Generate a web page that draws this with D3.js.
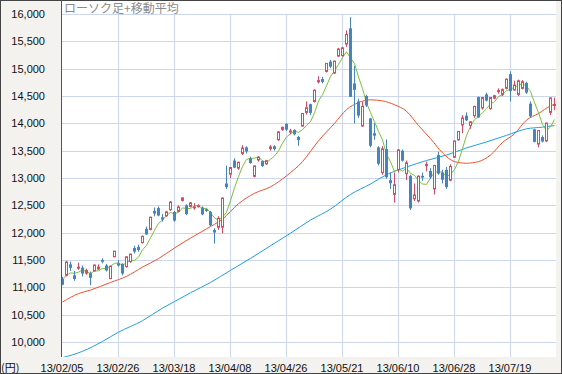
<!DOCTYPE html>
<html>
<head>
<meta charset="utf-8">
<script src="https://cdn.jsdelivr.net/npm/d3@7"></script>
<style>
  body { margin: 0; background: #fff; }
  svg { display: block; }
</style>
</head>
<body>
<svg width="562" height="374"></svg>
<script>
// trading days (2013/02/05 - 2013/08/05), one candle per day
var febDays = ["05","06","07","08","12","13","14","15","18","19","20","21","22","25","26","27","28"];
var marDays = ["01","04","05","06","07","08","11","12","13","14","15","18","19","21","22","25","26","27","28","29"];
var aprDays = ["01","02","03","04","05","08","09","10","11","12","15","16","17","18","19","22","23","24","25","26","30"];
var mayDays = ["01","02","07","08","09","10","13","14","15","16","17","20","21","22","23","24","27","28","29","30","31"];
var junDays = ["03","04","05","06","07","10","11","12","13","14","17","18","19","20","21","24","25","26","27","28"];
var julDays = ["01","02","03","04","05","08","09","10","11","12","16","17","18","19","22","23","24","25","26","29","30","31"];
var augDays = ["01","02","05"];

// candle values (yen)
var openVals = [11152,11220,11420,11220,11350,11360,11260,11260,11300,11335,
  11500,11400,11160,11560,11440,11430,11380,11470,11720,11740,
  11820,12070,12060,12400,12450,12280,12310,12420,12380,12390,
  12590,12500,12480,12460,12480,12460,12430,12380,12050,12100,
  12100,12900,13070,13320,13180,13450,13560,13360,13030,13330,
  13310,13260,13540,13580,13700,13890,13990,13840,13880,13750,
  13950,14200,14350,14400,14760,14810,14950,15130,14920,15230,
  15240,15450,15738,14730,14400,13950,14500,14090,13820,13560,
  13100,13530,12960,12700,13150,13500,13080,13040,12620,12580,
  13040,13230,13130,12800,13420,13100,13150,12960,13380,13700,
  13970,14140,13960,14140,14480,14280,14530,14270,14460,14590,
  14530,14640,14900,14610,14530,14640,14740,14360,13890,13620,
  13750,13680,14200,14330];
var highVals = [11190,11480,11470,11300,11450,11400,11340,11290,11420,11420,
  11530,11430,11395,11665,11500,11440,11565,11620,11760,11780,
  11950,12110,12290,12460,12480,12340,12400,12580,12400,12500,
  12650,12520,12560,12540,12520,12480,12440,12400,12080,12300,
  12640,13225,13200,13360,13300,13600,13580,13390,13230,13400,
  13320,13330,13600,13600,13860,13940,14000,13900,13890,13770,
  14190,14400,14360,14620,14860,14850,15100,15160,15150,15380,
  15400,15700,15942,15050,14450,14394,14520,14100,14000,13580,
  13580,13705,13100,13100,13530,13520,13320,13060,12900,13050,
  13100,13300,13180,13240,13480,13150,13200,13250,13680,13860,
  14150,14200,14040,14320,14490,14480,14560,14480,14520,14640,
  14640,14820,14950,14780,14800,14790,14760,14400,13900,13880,
  13780,14010,14470,14470];
var lowVals = [11040,11200,11300,11120,11320,11200,11230,11040,11290,11320,
  11440,11290,11150,11550,11380,11220,11360,11450,11620,11650,
  11800,11960,12040,12300,12300,12200,12290,12400,12200,12370,
  12570,12320,12460,12420,12460,12320,12380,12120,11800,12050,
  11990,12800,13000,13180,13150,13420,13450,13260,13010,13300,
  13200,13240,13500,13500,13680,13860,13860,13800,13780,13590,
  13940,14160,14150,14380,14730,14730,14930,15010,14900,15220,
  15220,15400,14484,14000,14100,13937,14300,13560,13700,13230,
  13060,12990,12800,12550,13100,13300,12960,12415,12580,12550,
  12950,13120,12980,12700,13060,12900,12800,12940,13370,13680,
  13820,14040,13900,14100,14100,14250,14400,14250,14440,14540,
  14500,14620,14400,14600,14500,14620,14540,14100,13650,13560,
  13650,13660,14150,14240];
var closeVals = [11047,11464,11357,11153,11369,11251,11307,11173,11407,11372,
  11468,11309,11386,11662,11398,11253,11559,11606,11652,11683,
  11932,11968,12283,12349,12314,12239,12381,12560,12220,12468,
  12635,12338,12546,12471,12493,12335,12397,12135,12003,12262,
  12634,12833,13192,13190,13288,13549,13485,13275,13221,13382,
  13220,13316,13568,13529,13843,13926,13884,13860,13799,13694,
  14180,14285,14191,14607,14782,14758,15096,15037,15138,15360,
  15381,15627,14484,14612,14142,14311,14326,13589,13774,13261,
  13533,13014,12904,12877,13514,13317,13277,12445,12690,13033,
  13007,13245,13014,13230,13080,12969,12834,13213,13677,13852,
  14098,14055,14028,14309,14109,14472,14416,14472,14506,14599,
  14615,14808,14589,14700,14778,14760,14562,14129,13661,13869,
  13668,14005,14466,14345];

// 5-day moving average, one value per candle
var ma5Vals = [11150,11220,11264,11256,11278,11319,11287,11251,11301,11302,
  11345,11346,11388,11439,11445,11402,11452,11496,11494,11551,
  11686,11768,11904,12043,12169,12231,12313,12369,12343,12374,
  12453,12444,12441,12492,12497,12437,12448,12366,12273,12226,
  12286,12373,12585,12822,13027,13210,13341,13357,13364,13382,
  13317,13283,13341,13403,13495,13636,13750,13808,13862,13833,
  13883,13964,14030,14191,14409,14525,14687,14856,14962,15078,
  15202,15309,15198,15093,14849,14635,14375,14196,14028,13852,
  13697,13434,13297,13118,13168,13125,13178,13086,13049,12952,
  12890,12884,12998,13106,13115,13108,13025,13065,13155,13309,
  13535,13779,13942,14068,14120,14195,14267,14356,14395,14493,
  14522,14600,14623,14662,14698,14727,14678,14586,14378,14196,
  13978,13866,13934,14071];

// 25-day moving average, read at these candles
var ma25Idx = [0,4,7,12,16,20,24,28,32,36,40,44,48,52,56,60,64,68,71,74,77,80,83,86,89,92,95,98,101,104,107,110,113,116,119,122,123];
var ma25Vals = [10731,10885,10950,11090,11200,11370,11526,11720,11900,12070,12250,12530,12720,12838,13040,13300,13680,14000,14250,14380,14430,14410,14340,14220,13960,13720,13460,13300,13270,13300,13420,13650,13810,14060,14180,14320,14350];

// 75-day moving average, read at these candles
var ma75Idx = [0,5,10,14,20,25,28,32,37,42,47,52,57,62,67,72,77,81,86,91,96,101,106,111,116,120,123];
var ma75Vals = [9713,9830,10010,10180,10390,10620,10740,10900,11090,11310,11530,11760,11990,12230,12430,12700,12890,13060,13200,13320,13420,13550,13660,13780,13900,13930,13960];

var yTicks = [10000,10500,11000,11500,12000,12500,13000,13500,14000,14500,15000,15500,16000];
var xTickIdx = [0,14,28,42,56,70,84,98,112];

var dates = [].concat(
  febDays.map(function(d){ return "13/02/" + d; }),
  marDays.map(function(d){ return "13/03/" + d; }),
  aprDays.map(function(d){ return "13/04/" + d; }),
  mayDays.map(function(d){ return "13/05/" + d; }),
  junDays.map(function(d){ return "13/06/" + d; }),
  julDays.map(function(d){ return "13/07/" + d; }),
  augDays.map(function(d){ return "13/08/" + d; })
);

var svg = d3.select("svg");
var width = parseInt(svg.attr("width"));
var height = parseInt(svg.attr("height"));

// plot area
var plotLeft = 61, plotRight = 556, plotTop = 1, plotBottom = 357;

var x = d3.scaleLinear().domain([0, dates.length - 1]).range([62, 62 + 4 * (dates.length - 1)]);
var y = d3.scaleLinear().domain([10000, 16000]).range([342, 14]);

var upColor = "#d34b67";
var downColor = "#4784bf";
var fontNum = "'Liberation Sans', Arial, sans-serif";

// background and frame
svg.append("rect")
  .attr("x", 0.5).attr("y", 0.5)
  .attr("width", width - 1).attr("height", height - 1)
  .attr("fill", "#f3f2ef")
  .attr("stroke", "#444");

svg.append("rect")
  .attr("x", plotLeft).attr("y", plotTop)
  .attr("width", plotRight - plotLeft).attr("height", plotBottom - plotTop)
  .attr("fill", "#fff");

svg.append("clipPath").attr("id", "plotClip")
  .append("rect")
  .attr("x", plotLeft + 1).attr("y", plotTop)
  .attr("width", plotRight - plotLeft - 1).attr("height", plotBottom - plotTop);

// grid lines
var grid = svg.append("g").attr("stroke", "#ccd7ee").attr("stroke-width", 1);
grid.selectAll("line.h")
  .data(yTicks)
  .enter().append("line")
  .attr("class", "h")
  .attr("x1", plotLeft).attr("x2", plotRight)
  .attr("y1", function(d){ return Math.round(y(d)) + 0.5; })
  .attr("y2", function(d){ return Math.round(y(d)) + 0.5; });

grid.selectAll("line.v")
  .data(xTickIdx.slice(1))
  .enter().append("line")
  .attr("class", "v")
  .attr("x1", function(d){ return x(d) + 0.5; })
  .attr("x2", function(d){ return x(d) + 0.5; })
  .attr("y1", Math.round(y(16000)))
  .attr("y2", plotBottom);

// left axis line
svg.append("line")
  .attr("x1", plotLeft + 0.5).attr("x2", plotLeft + 0.5)
  .attr("y1", 0).attr("y2", plotBottom)
  .attr("stroke", "#555");

// title
svg.append("text")
  .attr("x", 64).attr("y", 13)
  .attr("font-family", "'Noto Sans CJK JP', sans-serif")
  .attr("font-size", 12)
  .attr("fill", "#8a8a8a")
  .text("ローソク足+移動平均");

// moving averages
var plot = svg.append("g").attr("clip-path", "url(#plotClip)");

var lineDense = d3.line()
  .x(function(d, i){ return x(i) + 0.5; })
  .y(function(d){ return y(d); });

var lineSparse = function(idx){
  return d3.line()
    .curve(d3.curveMonotoneX)
    .x(function(d, i){ return x(idx[i]) + 0.5; })
    .y(function(d){ return y(d); });
};

plot.append("path")
  .attr("d", lineSparse(ma75Idx)(ma75Vals))
  .attr("fill", "none").attr("stroke", "#1f9fe0").attr("stroke-width", 1);

plot.append("path")
  .attr("d", lineSparse(ma25Idx)(ma25Vals))
  .attr("fill", "none").attr("stroke", "#f0512c").attr("stroke-width", 1);

plot.append("path")
  .attr("d", lineDense(ma5Vals))
  .attr("fill", "none").attr("stroke", "#7bc03a").attr("stroke-width", 1);

// candles
var candles = plot.selectAll("g.candle")
  .data(closeVals)
  .enter().append("g")
  .attr("class", "candle");

candles.append("line")
  .attr("x1", function(d, i){ return x(i) + 0.5; })
  .attr("x2", function(d, i){ return x(i) + 0.5; })
  .attr("y1", function(d, i){ return y(Math.max(highVals[i], openVals[i], d)); })
  .attr("y2", function(d, i){ return y(Math.min(lowVals[i], openVals[i], d)); })
  .attr("stroke", function(d, i){ return d >= openVals[i] ? upColor : downColor; })
  .attr("stroke-width", 1);

candles.append("rect")
  .attr("x", function(d, i){ return d >= openVals[i] ? x(i) - 0.5 : x(i) - 1; })
  .attr("width", function(d, i){ return d >= openVals[i] ? 2 : 3; })
  .attr("y", function(d, i){ return y(Math.max(openVals[i], d)); })
  .attr("height", function(d, i){ return Math.max(1, y(Math.min(openVals[i], d)) - y(Math.max(openVals[i], d))); })
  .attr("fill", function(d, i){ return d >= openVals[i] ? "#fff" : downColor; })
  .attr("stroke", function(d, i){ return d >= openVals[i] ? upColor : "none"; })
  .attr("stroke-width", 1);

// y axis labels
svg.append("g")
  .selectAll("text")
  .data(yTicks)
  .enter().append("text")
  .attr("x", 45)
  .attr("y", function(d){ return y(d); })
  .attr("dy", "0.35em")
  .attr("text-anchor", "end")
  .attr("font-family", fontNum)
  .attr("font-size", 11)
  .attr("fill", "#111")
  .text(d3.format(","));

// x axis labels
svg.append("g")
  .selectAll("text")
  .data(xTickIdx)
  .enter().append("text")
  .attr("x", function(d){ return x(d); })
  .attr("y", 368)
  .attr("dy", "0.35em")
  .attr("text-anchor", "middle")
  .attr("font-family", fontNum)
  .attr("font-size", 11)
  .attr("fill", "#111")
  .text(function(d){ return dates[d]; });

svg.append("text")
  .attr("x", 1).attr("y", 368)
  .attr("dy", "0.35em")
  .attr("font-family", "'Noto Sans CJK JP', sans-serif")
  .attr("font-size", 11)
  .attr("fill", "#111")
  .text("(円)");
</script>
</body>
</html>
